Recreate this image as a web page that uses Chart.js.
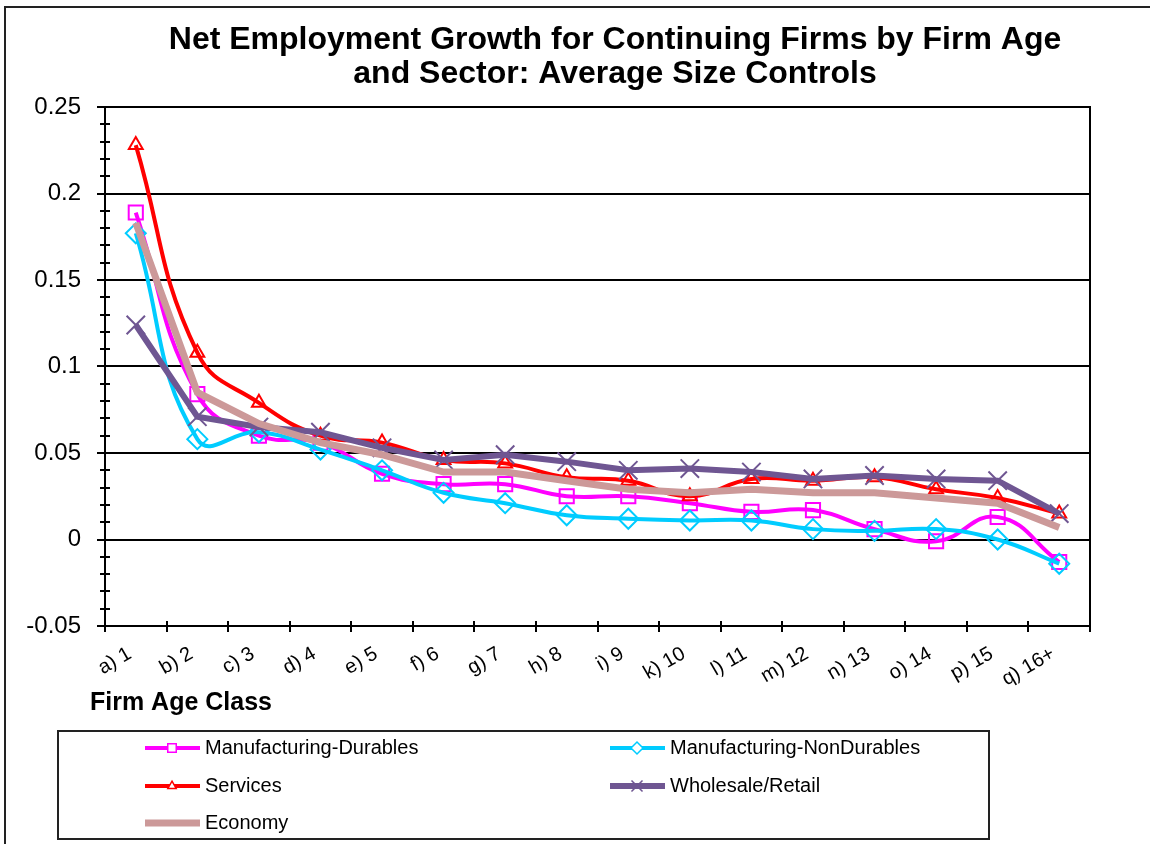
<!DOCTYPE html>
<html>
<head>
<meta charset="utf-8">
<script src="https://cdn.jsdelivr.net/npm/chart.js@4.4.0/dist/chart.umd.min.js"></script>
<style>
  body { margin: 0; background: #fff; }
  #wrap { width: 1150px; height: 844px; }
</style>
</head>
<body>
<div id="wrap"><canvas id="chart" width="1150" height="844"></canvas></div>
<script>
// firm age classes
let ageClasses = ['a) 1', 'b) 2', 'c) 3', 'd) 4', 'e) 5', 'f) 6', 'g) 7', 'h) 8', 'i) 9',
    'k) 10', 'l) 11', 'm) 12', 'n) 13', 'o) 14', 'p) 15', 'q) 16+'];

let mfgDurables    = [0.189, 0.084, 0.060, 0.056, 0.038, 0.032, 0.032, 0.025, 0.025, 0.021, 0.016, 0.017, 0.006, -0.001, 0.013, -0.013];
let mfgNonDurables = [0.177, 0.058, 0.062, 0.052, 0.040, 0.027, 0.021, 0.014, 0.012, 0.011, 0.011, 0.006, 0.005, 0.006, 0.000, -0.014];
let services       = [0.228, 0.108, 0.079, 0.060, 0.056, 0.046, 0.044, 0.036, 0.034, 0.025, 0.035, 0.034, 0.036, 0.029, 0.024, 0.015];
let wholesale      = [0.124, 0.071, 0.065, 0.062, 0.053, 0.046, 0.049, 0.045, 0.040, 0.041, 0.039, 0.035, 0.037, 0.035, 0.034, 0.015];
let economy        = [0.183, 0.085, 0.067, 0.056, 0.049, 0.039, 0.039, 0.034, 0.029, 0.027, 0.029, 0.027, 0.027, 0.024, 0.021, 0.007];

let yMajor = [-0.05, 0, 0.05, 0.1, 0.15, 0.2, 0.25];

const FONT = '"Liberation Sans", Arial, sans-serif';
Chart.defaults.font.family = FONT;
Chart.defaults.color = '#000';

function isMajor(v) {
    return yMajor.some(m => Math.abs(m - v) < 1e-6);
}

// frame, ticks, titles and the two-column legend
let decorations = {
    id: 'decorations',
    beforeDraw(chart) {
        let ctx = chart.ctx;
        ctx.save();
        ctx.fillStyle = '#fff';
        ctx.fillRect(0, 0, chart.width, chart.height);
        ctx.strokeStyle = '#222';
        ctx.lineWidth = 2;
        ctx.strokeRect(5, 7, 1300, 1000);
        ctx.restore();
    },
    afterDraw(chart) {
        let ctx = chart.ctx;
        let area = chart.chartArea;
        let y = chart.scales.y;
        ctx.save();

        // plot frame
        ctx.strokeStyle = '#000';
        ctx.lineWidth = 2;
        ctx.strokeRect(area.left, area.top, area.right - area.left, area.bottom - area.top);

        // y ticks
        for (let i = -5; i <= 25; i++) {
            let v = i / 100;
            let py = Math.round(y.getPixelForValue(v));
            ctx.beginPath();
            if (isMajor(v)) {
                ctx.moveTo(area.left - 8, py);
                ctx.lineTo(area.left, py);
            } else {
                ctx.moveTo(area.left - 5, py);
                ctx.lineTo(area.left + 5, py);
            }
            ctx.stroke();
        }
        // x ticks at category boundaries
        let step = (area.right - area.left) / ageClasses.length;
        for (let i = 0; i <= ageClasses.length; i++) {
            let px = Math.round(area.left + i * step);
            ctx.beginPath();
            ctx.moveTo(px, area.bottom - 5);
            ctx.lineTo(px, area.bottom + 6);
            ctx.stroke();
        }

        // title
        ctx.fillStyle = '#000';
        ctx.textAlign = 'center';
        ctx.textBaseline = 'middle';
        ctx.font = 'bold 32px ' + FONT;
        ctx.fillText('Net Employment Growth for Continuing Firms by Firm Age', 615, 40);
        ctx.fillText('and Sector: Average Size Controls', 615, 74);

        // x axis title
        ctx.textAlign = 'left';
        ctx.font = 'bold 25px ' + FONT;
        ctx.fillText('Firm Age Class', 90, 703);

        // legend
        ctx.strokeStyle = '#222';
        ctx.lineWidth = 2;
        ctx.strokeRect(58, 731, 931, 108);
        let cols = [145, 610];
        let rows = [748, 786, 823];
        ctx.font = '20px ' + FONT;
        chart.data.datasets.forEach((ds, i) => {
            let lx = cols[i % 2];
            let ly = rows[Math.floor(i / 2)];
            ctx.strokeStyle = ds.borderColor;
            ctx.lineWidth = ds.borderWidth;
            ctx.beginPath();
            ctx.moveTo(lx, ly);
            ctx.lineTo(lx + 55, ly);
            ctx.stroke();
            if (ds.pointStyle) {
                ctx.fillStyle = '#fff';
                ctx.strokeStyle = ds.pointBorderColor;
                ctx.lineWidth = 1.5;
                Chart.helpers.drawPoint(ctx, {
                    pointStyle: ds.pointStyle,
                    radius: ds.pointRadius * 0.6,
                    borderWidth: 1.5,
                    rotation: 0
                }, lx + 27, ly);
            }
            ctx.fillStyle = '#000';
            ctx.fillText(ds.label, lx + 60, ly);
        });
        ctx.restore();
    }
};

function series(label, data, color, width, style, radius, tension, order) {
    return {
        label: label,
        data: data,
        borderColor: color,
        borderWidth: width,
        pointStyle: style,
        pointRadius: style ? radius : 0,
        pointBorderColor: color,
        pointBackgroundColor: 'rgba(255,255,255,0)',
        pointBorderWidth: 2,
        tension: tension,
        fill: false,
        order: order
    };
}

new Chart(document.getElementById('chart'), {
    type: 'line',
    data: {
        labels: ageClasses,
        datasets: [
            series('Manufacturing-Durables', mfgDurables, '#FF00FF', 4, 'rect', 10, 0.45, 5),
            series('Manufacturing-NonDurables', mfgNonDurables, '#00CCFF', 4, 'rectRot', 10, 0.45, 4),
            series('Services', services, '#FF0000', 4, 'triangle', 8, 0.45, 3),
            series('Wholesale/Retail', wholesale, '#6F5692', 6, 'crossRot', 13, 0, 2),
            series('Economy', economy, '#CC9999', 7, false, 0, 0, 1)
        ]
    },
    options: {
        responsive: false,
        animation: false,
        layout: { padding: { left: 0, top: 107, right: 60, bottom: 128 } },
        plugins: {
            legend: { display: false },
            title: { display: false },
            tooltip: { enabled: false }
        },
        scales: {
            x: {
                offset: true,
                grid: { display: false, drawTicks: false },
                border: { display: false },
                ticks: {
                    font: { size: 20 },
                    maxRotation: 30,
                    minRotation: 30,
                    padding: 16,
                    labelOffset: -6,
                    color: '#000'
                },
                afterFit(scale) { scale.height = 90; }
            },
            y: {
                min: -0.05,
                max: 0.25,
                grid: {
                    drawTicks: false,
                    color: ctx => isMajor(ctx.tick.value) ? '#000' : 'rgba(0,0,0,0)',
                    lineWidth: 2
                },
                border: { display: false },
                ticks: {
                    stepSize: 0.01,
                    autoSkip: false,
                    padding: 24,
                    font: { size: 24 },
                    color: '#000',
                    callback: v => isMajor(v) ? String(+v.toFixed(2)) : ''
                },
                afterFit(scale) { scale.width = 105; }
            }
        }
    },
    plugins: [decorations]
});
</script>
</body>
</html>
